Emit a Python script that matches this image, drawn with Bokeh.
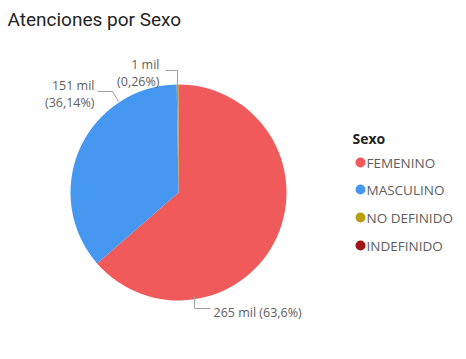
import numpy as np
from bokeh.plotting import figure
from bokeh.models import Range1d
from bokeh.core.properties import value
from bokeh.embed import file_html
from bokeh.resources import INLINE

categories = ["FEMENINO", "MASCULINO", "NO DEFINIDO", "INDEFINIDO"]
counts_mil = [265.0, 150.6, 1.08, 0.02]
labels = ["265 mil (63,6%)", "151 mil\n(36,14%)", "1 mil\n(0,26%)", ""]
colors = ["#F05A5B", "#4597F0", "#B89F12", "#A01515"]

W, H = 466, 343
p = figure(width=W, height=H, output_backend="svg", toolbar_location=None,
           x_range=Range1d(0, W), y_range=Range1d(0, H), min_border=0)
p.axis.visible = False
p.grid.visible = False
p.outline_line_color = None

def py(y):  # screenshot y -> data y
    return H - y
def px(x):
    return x

vals = np.array(counts_mil)
frac = vals / vals.sum()
cum = np.concatenate([[0], np.cumsum(frac)])
start = np.pi / 2 - cum[:-1] * 2 * np.pi
end = np.pi / 2 - cum[1:] * 2 * np.pi
cx, cy, r = px(178), py(192), 108
p.wedge(x=[cx] * 4, y=[cy] * 4, radius=r, radius_units="screen",
        start_angle=list(start), end_angle=list(end), direction="clock",
        fill_color=colors, line_color=None)

p.text(x=[px(7)], y=[py(19)], text=["Atenciones por Sexo"], text_font=value("Roboto"),
       text_font_size="19px", text_color="#252423", text_baseline="middle")

lab_font = value("Open Sans")
lc = "#605E5C"
gc = "#A0A0A0"
# leader lines
p.line(x=[px(97), px(112), px(118)], y=[py(91), py(91), py(101)], line_color=gc, line_width=1)
p.line(x=[px(165), px(177), px(177)], y=[py(70), py(70), py(85)], line_color=gc, line_width=1)
p.line(x=[px(194), px(194), px(210)], y=[py(296), py(308), py(308)], line_color=gc, line_width=1)

l1 = labels[1].split("\n")
l2 = labels[2].split("\n")
p.text(x=[px(94), px(94)], y=[py(85), py(102)], text=l1, text_font=lab_font,
       text_font_size="12.5px", text_color=lc, text_align="right", text_baseline="middle")
p.text(x=[px(159), px(159)], y=[py(64), py(81)], text=l2, text_font=lab_font,
       text_font_size="12.5px", text_color=lc, text_align="right", text_baseline="middle")
p.text(x=[px(213)], y=[py(312)], text=[labels[0]], text_font=lab_font,
       text_font_size="12.5px", text_color=lc, text_align="left", text_baseline="middle")

# legend
p.text(x=[px(352)], y=[py(138)], text=["Sexo"], text_font=lab_font, text_font_style="bold",
       text_font_size="14px", text_color="#252423", text_baseline="middle")
ly = [162, 189, 217, 245]
p.scatter(x=[px(360)] * 4, y=[py(v) for v in ly], size=10, marker="circle",
          fill_color=colors, line_color=None)
p.text(x=[px(366)] * 4, y=[py(v) for v in ly], text=categories, text_font=lab_font,
       text_font_size="13.5px", text_color=lc, text_baseline="middle")

open("out.html", "w").write(file_html(p, INLINE))
